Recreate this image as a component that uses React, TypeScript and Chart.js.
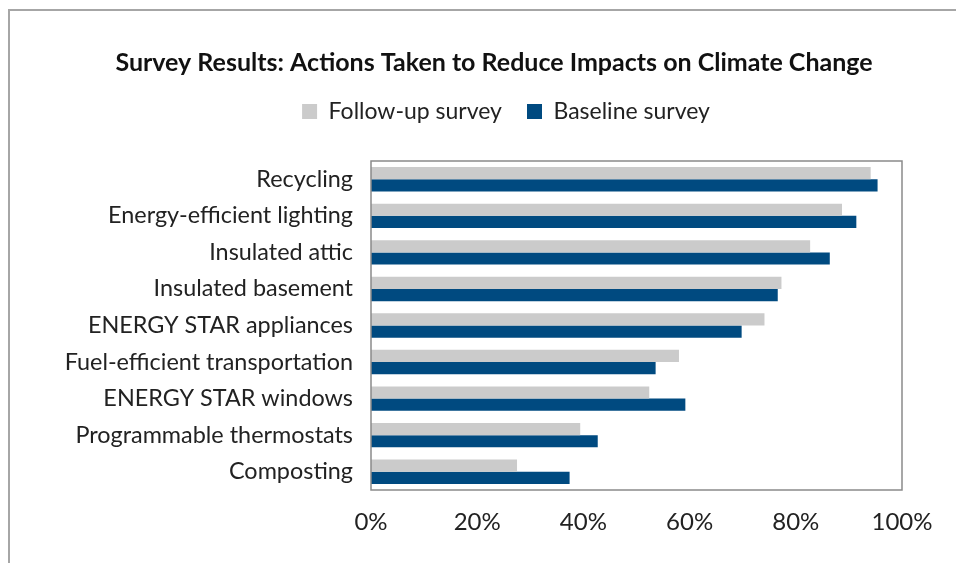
import React, { useEffect, useRef } from "react";
import { Chart, registerables } from "chart.js";

Chart.register(...registerables);

const titleText = "Survey Results: Actions Taken to Reduce Impacts on Climate Change";
const categories = [
  "Recycling",
  "Energy-efficient lighting",
  "Insulated attic",
  "Insulated basement",
  "ENERGY STAR appliances",
  "Fuel-efficient transportation",
  "ENERGY STAR windows",
  "Programmable thermostats",
  "Composting",
];
const followUpLabel = "Follow-up survey";
const baselineLabel = "Baseline survey";
const followUp = [94.1, 88.7, 82.7, 77.3, 74.1, 58.0, 52.4, 39.4, 27.5];
const baseline = [95.4, 91.4, 86.4, 76.6, 69.8, 53.6, 59.2, 42.7, 37.4];
const xTicks = [0, 20, 40, 60, 80, 100];

const FONT = "Lato, 'Open Sans', sans-serif";
const CANVAS_W = 988;
const CANVAS_H = 563;

const framePlugin = {
  id: "frame",
  afterLayout(chart: any) {
    const lg = chart.legend;
    if (lg) {
      lg.left += 12;
      lg.right += 12;
    }
  },
  beforeDraw(chart: any) {
    const ctx = chart.ctx;
    ctx.save();
    ctx.fillStyle = "#ffffff";
    ctx.fillRect(0, 0, chart.width, chart.height);
    ctx.strokeStyle = "#a6a6a6";
    ctx.lineWidth = 2;
    ctx.strokeRect(9, 10, 3000, 3000);
    ctx.restore();
  },
  afterDatasetsDraw(chart: any) {
    const { ctx, chartArea } = chart;
    ctx.save();
    ctx.strokeStyle = "#8a8a8a";
    ctx.lineWidth = 1.5;
    ctx.strokeRect(chartArea.left, chartArea.top, chartArea.right - chartArea.left, chartArea.bottom - chartArea.top);
    ctx.restore();
  },
};

export default function App() {
  const ref = useRef<HTMLCanvasElement | null>(null);

  useEffect(() => {
    if (!ref.current) return;
    const chart = new Chart(ref.current, {
      type: "bar",
      data: {
        labels: categories,
        datasets: [
          {
            label: followUpLabel,
            data: followUp,
            backgroundColor: "#cbcbcb",
            borderWidth: 0,
          },
          {
            label: baselineLabel,
            data: baseline,
            backgroundColor: "#004a80",
            borderWidth: 0,
          },
        ],
      },
      options: {
        indexAxis: "y",
        responsive: false,
        animation: false,
        devicePixelRatio: 1,
        layout: { padding: 0 },
        datasets: {
          bar: { categoryPercentage: 2 / 3, barPercentage: 1 },
        },
        plugins: {
          title: {
            display: true,
            text: titleText,
            color: "#111111",
            font: { family: FONT, size: 25, weight: "bold", lineHeight: 1 },
            padding: { top: 50, bottom: 0 },
          },
          legend: {
            display: true,
            position: "top",
            labels: {
              color: "#222222",
              font: { family: FONT, size: 23 },
              boxWidth: 15,
              boxHeight: 15,
              padding: 25,
            },
          },
          subtitle: {
            display: true,
            text: "",
            weight: 500,
            font: { size: 28, lineHeight: 1 },
            padding: 0,
          } as any,
          tooltip: { enabled: false },
        },
        scales: {
          x: {
            type: "linear",
            min: 0,
            max: 100,
            grid: { display: false, drawTicks: false },
            border: { display: false },
            afterBuildTicks: (scale: any) => {
              scale.ticks = xTicks.map((v) => ({ value: v }));
            },
            afterFit: (scale: any) => {
              scale.height = CANVAS_H - 490;
            },
            ticks: {
              color: "#222222",
              font: { family: FONT, size: 24 },
              padding: 18,
              callback: (v: any) => v + "%",
            },
          },
          y: {
            grid: { display: false, drawTicks: false },
            border: { display: false },
            afterFit: (scale: any) => {
              scale.width = 371;
            },
            ticks: {
              color: "#222222",
              font: { family: FONT, size: 23.4 },
              padding: 18,
            },
          },
          spacerRight: {
            type: "linear",
            axis: "y",
            position: "right",
            display: true,
            grid: { display: false, drawTicks: false },
            border: { display: false },
            ticks: { display: false },
            afterFit: (scale: any) => {
              scale.width = CANVAS_W - 902;
            },
          } as any,
        },
      },
      plugins: [framePlugin],
    });
    return () => chart.destroy();
  }, []);

  return (
    <div
      style={{
        position: "fixed",
        left: 0,
        top: 0,
        width: 956,
        height: 563,
        overflow: "hidden",
        background: "#ffffff",
      }}
    >
      <canvas ref={ref} width={CANVAS_W} height={CANVAS_H} style={{ display: "block" }} />
    </div>
  );
}
